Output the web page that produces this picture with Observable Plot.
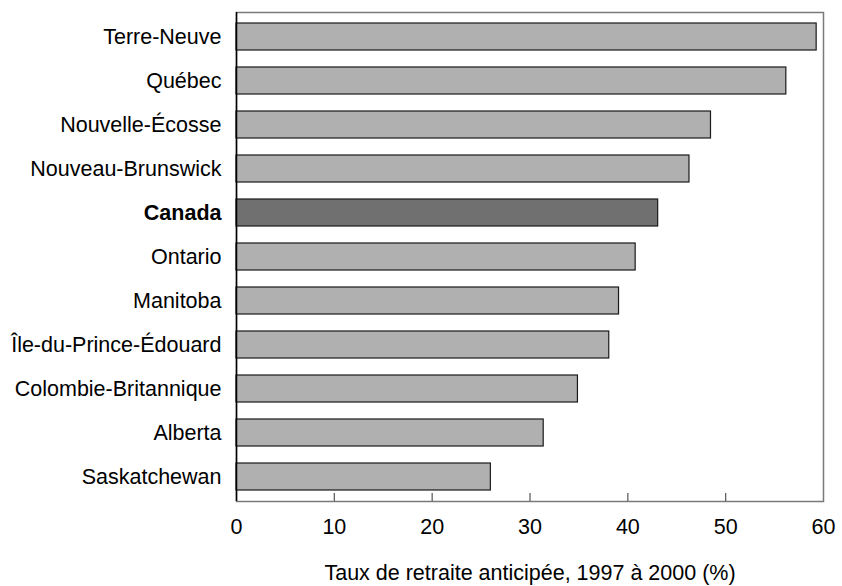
<!DOCTYPE html>
<html>
<head>
<meta charset="utf-8">
<script src="https://cdn.jsdelivr.net/npm/d3@7"></script>
<script src="https://cdn.jsdelivr.net/npm/@observablehq/plot@0.6"></script>
<style>
  body { margin: 0; background: #fff; }
  svg { font-family: "Liberation Sans", Arial, sans-serif; }
</style>
</head>
<body>
<div id="chart"></div>
<script>
const provinces = ["Terre-Neuve", "Québec", "Nouvelle-Écosse", "Nouveau-Brunswick", "Canada", "Ontario", "Manitoba", "Île-du-Prince-Édouard", "Colombie-Britannique", "Alberta", "Saskatchewan"];
const rates = [59.3, 56.2, 48.5, 46.3, 43.1, 40.8, 39.1, 38.1, 34.9, 31.4, 26.0];
const xTicks = [0, 10, 20, 30, 40, 50, 60];
const xLabel = "Taux de retraite anticipée, 1997 à 2000 (%)";
const highlight = "Canada";

const data = provinces.map((p, i) => ({province: p, rate: rates[i]}));
const fs = 21.5;

const chart = Plot.plot({
  width: 842,
  height: 586,
  marginLeft: 236,
  marginRight: 19,
  marginTop: 12,
  marginBottom: 85,
  style: {fontFamily: "'Liberation Sans', Arial, sans-serif", fontSize: fs + "px", background: "#fff"},
  x: {domain: [0, 60], ticks: xTicks},
  y: {domain: provinces, paddingInner: 0.39, paddingOuter: 0.2, axis: null},
  marks: [
    Plot.frame({stroke: "#7a7a7a", strokeWidth: 1.5}),
    Plot.barX(data, {
      x: "rate", y: "province",
      fill: d => d.province === highlight ? "#707070" : "#b0b0b0",
      stroke: "#1a1a1a", strokeWidth: 1.2
    }),
    Plot.tickX(xTicks.slice(1, -1), {x: d => d, insetTop: 489 - 8, stroke: "#555", strokeWidth: 1.2}),
    Plot.ruleX([0], {stroke: "#000", strokeWidth: 1.5}),
    Plot.axisX({tickSize: 0, tickPadding: 17, fontSize: fs, label: null, ticks: xTicks, tickFormat: d => String(d)}),
    Plot.text(provinces.filter(p => p !== highlight), {y: d => d, frameAnchor: "left", textAnchor: "end", dx: -15, fontSize: fs, fill: "#000"}),
    Plot.text([highlight], {y: d => d, frameAnchor: "left", textAnchor: "end", dx: -15, fontSize: fs, fontWeight: "bold", fill: "#000"}),
    Plot.text([xLabel], {frameAnchor: "bottom", dy: 78, fontSize: fs, fill: "#000"})
  ]
});
document.getElementById("chart").appendChild(chart);
</script>
</body>
</html>
